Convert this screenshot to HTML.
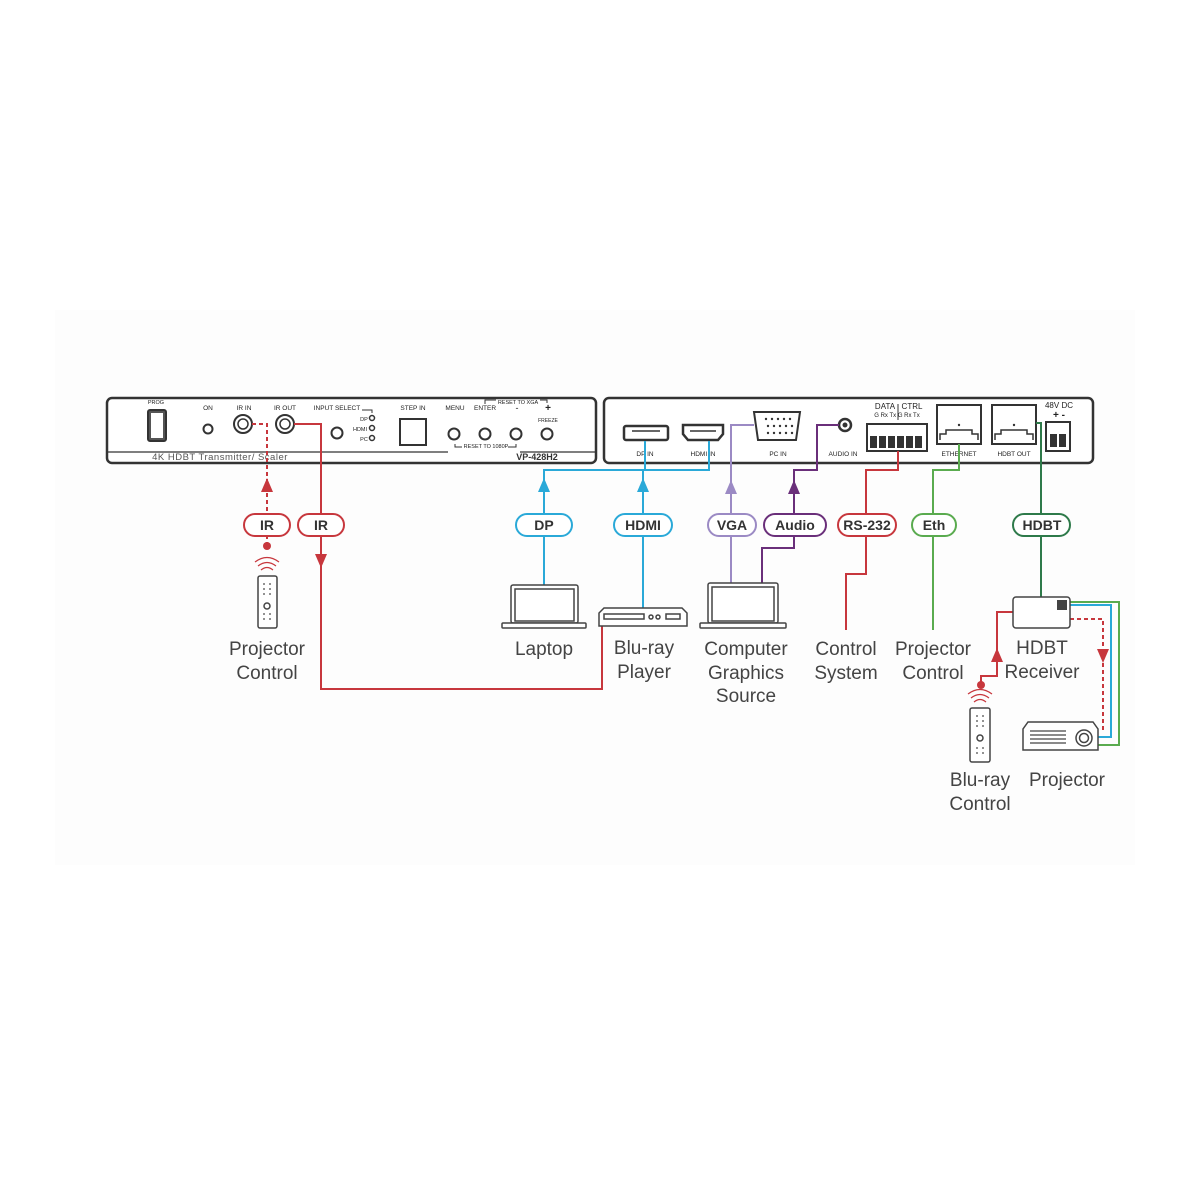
<!DOCTYPE html>
<html><head><meta charset="utf-8"><style>
html,body{margin:0;padding:0;background:#fff;}
svg{display:block;}
text{font-family:"Liberation Sans",sans-serif;}
.lbl{font-size:19px;fill:#444;text-anchor:middle;}
.pill{font-size:14px;font-weight:bold;fill:#333;text-anchor:middle;}
.sm{font-size:6.5px;fill:#222;text-anchor:middle;}
</style></head><body>
<svg width="1200" height="1200" viewBox="0 0 1200 1200" xmlns="http://www.w3.org/2000/svg">
<rect x="55" y="310" width="1080" height="555" fill="#fdfdfd"/>
<!-- FRONT PANEL -->
<g stroke="#333" fill="none">
<rect x="107" y="398" width="489" height="65" rx="5" stroke-width="2.5" fill="#fff"/>
<line x1="108" y1="452" x2="448" y2="452" stroke-width="1.2"/>
<line x1="520" y1="452" x2="595" y2="452" stroke-width="1.2"/>
<rect x="148" y="410" width="18" height="31" rx="2" stroke-width="2" fill="#555"/>
<rect x="151" y="413" width="12" height="25" fill="#fff" stroke="none"/>
<circle cx="208" cy="429" r="4.5" stroke-width="2"/>
<circle cx="243" cy="424" r="9" stroke-width="2"/><circle cx="243" cy="424" r="5" stroke-width="1.5"/>
<circle cx="285" cy="424" r="9" stroke-width="2"/><circle cx="285" cy="424" r="5" stroke-width="1.5"/>
<circle cx="337" cy="433" r="5.5" stroke-width="2"/>
<circle cx="372" cy="418" r="2.5" stroke-width="1.5"/>
<circle cx="372" cy="428" r="2.5" stroke-width="1.5"/>
<circle cx="372" cy="438" r="2.5" stroke-width="1.5"/>
<rect x="400" y="419" width="26" height="26" stroke-width="2"/>
<circle cx="454" cy="434" r="5.5" stroke-width="2"/>
<circle cx="485" cy="434" r="5.5" stroke-width="2"/>
<circle cx="516" cy="434" r="5.5" stroke-width="2"/>
<circle cx="547" cy="434" r="5.5" stroke-width="2"/>
<polyline points="362,410 372,410 372,413" stroke-width="1"/>
<polyline points="485,404 485,400 496,400" stroke-width="1"/>
<polyline points="540,400 547,400 547,403" stroke-width="1"/>
<polyline points="455,444 455,447 462,447" stroke-width="1"/>
<polyline points="508,447 516,447 516,444" stroke-width="1"/>
</g>
<g class="sm">
<text x="156" y="404" font-size="5.5">PROG</text>
<text x="208" y="410">ON</text>
<text x="244" y="410">IR IN</text>
<text x="285" y="410">IR OUT</text>
<text x="337" y="410">INPUT SELECT</text>
<text x="364" y="421" font-size="5.5">DP</text>
<text x="360" y="431" font-size="5.5">HDMI</text>
<text x="364" y="441" font-size="5.5">PC</text>
<text x="413" y="410">STEP IN</text>
<text x="455" y="410">MENU</text>
<text x="485" y="410">ENTER</text>
<text x="518" y="404" font-size="5.5">RESET TO XGA</text>
<text x="517" y="411" font-size="9">-</text>
<text x="548" y="411" font-size="10" font-weight="bold">+</text>
<text x="548" y="422" font-size="5">FREEZE</text>
<text x="486" y="448" font-size="5.5">RESET TO 1080P</text>
</g>
<text x="220" y="460" font-size="9.5" fill="#555" text-anchor="middle" letter-spacing="0.5">4K HDBT Transmitter/ Scaler</text>
<text x="537" y="460" font-size="9" font-weight="bold" fill="#333" text-anchor="middle">VP-428H2</text>
<!-- REAR PANEL -->
<g stroke="#333" fill="none">
<rect x="604" y="398" width="489" height="65" rx="5" stroke-width="2.5" fill="#fff"/>
<rect x="624" y="426" width="44" height="14" rx="2" stroke-width="2.5"/>
<line x1="632" y1="431" x2="660" y2="431" stroke-width="1.5"/>
<path d="M683 425 H723 V434 L718 440 H688 L683 434 Z" stroke-width="2.5"/>
<line x1="690" y1="431" x2="716" y2="431" stroke-width="1.5"/>
<path d="M754 412 H800 L796 440 H758 Z" stroke-width="2"/>
<circle cx="845" cy="425" r="6" stroke-width="2.5"/><circle cx="845" cy="425" r="2" fill="#333"/>
<rect x="867" y="424" width="60" height="27" stroke-width="2"/>
<rect x="937" y="405" width="44" height="39" stroke-width="2"/>
<rect x="992" y="405" width="44" height="39" stroke-width="2"/>
<rect x="1046" y="422" width="24" height="29" stroke-width="2"/>
<line x1="898" y1="404" x2="898" y2="420" stroke-width="1"/>
</g>
<g fill="#333">
<circle cx="766" cy="419" r="1.2"/><circle cx="772" cy="419" r="1.2"/><circle cx="778" cy="419" r="1.2"/><circle cx="784" cy="419" r="1.2"/><circle cx="790" cy="419" r="1.2"/>
<circle cx="768" cy="426" r="1.2"/><circle cx="774" cy="426" r="1.2"/><circle cx="780" cy="426" r="1.2"/><circle cx="786" cy="426" r="1.2"/><circle cx="792" cy="426" r="1.2"/>
<circle cx="768" cy="433" r="1.2"/><circle cx="774" cy="433" r="1.2"/><circle cx="780" cy="433" r="1.2"/><circle cx="786" cy="433" r="1.2"/><circle cx="792" cy="433" r="1.2"/>
<rect x="870" y="436" width="7" height="12"/><rect x="879" y="436" width="7" height="12"/><rect x="888" y="436" width="7" height="12"/><rect x="897" y="436" width="7" height="12"/><rect x="906" y="436" width="7" height="12"/><rect x="915" y="436" width="7" height="12"/>
<circle cx="959" cy="425" r="1.2"/><circle cx="1014" cy="425" r="1.2"/>
<rect x="1050" y="434" width="7" height="13"/><rect x="1059" y="434" width="7" height="13"/>
</g>
<g stroke="#333" fill="none" stroke-width="1.5">
<path d="M940 440 V434 H946 V430 H972 V434 H978 V440"/>
<path d="M995 440 V434 H1001 V430 H1027 V434 H1033 V440"/>
</g>
<g class="sm">
<text x="645" y="456">DP IN</text>
<text x="703" y="456">HDMI IN</text>
<text x="778" y="456">PC IN</text>
<text x="843" y="456">AUDIO IN</text>
<text x="885" y="409" font-size="8">DATA</text>
<text x="912" y="409" font-size="8">CTRL</text>
<text x="897" y="417" font-size="6">G Rx Tx G Rx Tx</text>
<text x="959" y="456">ETHERNET</text>
<text x="1014" y="456">HDBT OUT</text>
<text x="1059" y="408" font-size="8">48V DC</text>
<text x="1059" y="418" font-size="10" font-weight="bold">+ -</text>
</g>
<!-- CONNECTIONS -->
<g fill="none" stroke-width="2">
<!-- IR dashed -->
<path d="M252 424 H267 V546" stroke="#c7373d" stroke-dasharray="4,3"/>
<!-- IR solid -->
<path d="M294 424 H321 V689 H602 V622" stroke="#c7373d"/>
<!-- DP -->
<path d="M645 441 V470 H544 V585" stroke="#2aa9d8"/>
<path d="M709 441 V470 H643 V608" stroke="#2aa9d8"/>
<path d="M754 425 H731 V583" stroke="#9b8ac4"/>
<path d="M839 425 H817 V470 H794 V548 H762 V583" stroke="#6a2f7a"/>
<path d="M898 451 V470 H866 V574 H846 V630" stroke="#c7373d"/>
<path d="M959 444 V470 H933 V630" stroke="#5aab4f"/>
<path d="M1036 423 H1041 V597" stroke="#2e7a4a"/>
<path d="M1070 605 H1111 V737 H1098" stroke="#2aa9d8"/>
<path d="M1070 602 H1119 V745 H1098" stroke="#5aab4f"/>
<path d="M1070 619 H1103 V733" stroke="#c7373d" stroke-dasharray="4,3"/>
<path d="M1013 612 H997 V676 H981 V685" stroke="#c7373d"/>
</g>
<!-- arrows -->
<polygon points="267,478 261,492 273,492" fill="#c7373d"/>
<polygon points="321,568 315,554 327,554" fill="#c7373d"/>
<polygon points="544,478 538,492 550,492" fill="#2aa9d8"/>
<polygon points="643,478 637,492 649,492" fill="#2aa9d8"/>
<polygon points="731,480 725,494 737,494" fill="#9b8ac4"/>
<polygon points="794,480 788,494 800,494" fill="#6a2f7a"/>
<polygon points="997,648 991,662 1003,662" fill="#c7373d"/>
<polygon points="1103,663 1097,649 1109,649" fill="#c7373d"/>
<polygon points="601,620 607,620 604,626" fill="#c7373d"/>
<circle cx="267" cy="546" r="4" fill="#c7373d"/>
<circle cx="981" cy="685" r="4" fill="#c7373d"/>
<!-- pills -->
<g stroke-width="2" fill="#fff">
<rect x="244" y="514" width="46" height="22" rx="11" stroke="#c7373d"/>
<rect x="298" y="514" width="46" height="22" rx="11" stroke="#c7373d"/>
<rect x="516" y="514" width="56" height="22" rx="11" stroke="#2aa9d8"/>
<rect x="614" y="514" width="58" height="22" rx="11" stroke="#2aa9d8"/>
<rect x="708" y="514" width="48" height="22" rx="11" stroke="#9b8ac4"/>
<rect x="764" y="514" width="62" height="22" rx="11" stroke="#6a2f7a"/>
<rect x="838" y="514" width="58" height="22" rx="11" stroke="#c7373d"/>
<rect x="912" y="514" width="44" height="22" rx="11" stroke="#5aab4f"/>
<rect x="1013" y="514" width="57" height="22" rx="11" stroke="#2e7a4a"/>
</g>
<g class="pill">
<text x="267" y="530">IR</text><text x="321" y="530">IR</text>
<text x="544" y="530">DP</text><text x="643" y="530">HDMI</text>
<text x="732" y="530">VGA</text><text x="795" y="530">Audio</text>
<text x="867" y="530">RS-232</text><text x="934" y="530">Eth</text>
<text x="1042" y="530">HDBT</text>
</g>
<!-- devices -->
<g stroke="#444" fill="#fff" stroke-width="1.5">
<!-- remote 1 -->
<rect x="258" y="576" width="19" height="52" rx="2"/>
<circle cx="267" cy="606" r="3"/>
<rect x="511" y="585" width="67" height="38" rx="2"/>
<rect x="515" y="589" width="59" height="32" fill="none"/>
<rect x="502" y="623" width="84" height="5" rx="1"/>
<rect x="708" y="583" width="70" height="40" rx="2"/>
<rect x="712" y="587" width="62" height="34" fill="none"/>
<rect x="700" y="623" width="86" height="5" rx="1"/>
<path d="M604 608 H682 L687 613 V626 H599 V613 Z"/>
<rect x="604" y="614" width="40" height="5"/>
<circle cx="651" cy="617" r="2"/><circle cx="658" cy="617" r="2"/>
<rect x="666" y="614" width="14" height="5"/>
<rect x="1013" y="597" width="57" height="31" rx="3"/>
<rect x="970" y="708" width="20" height="54" rx="2"/>
<circle cx="980" cy="738" r="3"/>
<path d="M1028 722 H1093 L1098 729 V750 H1023 V729 Z"/>
<circle cx="1084" cy="738" r="8"/><circle cx="1084" cy="738" r="4.5"/>
</g>
<g stroke="#444" stroke-width="1.2">
<line x1="1030" y1="731" x2="1066" y2="731"/><line x1="1030" y1="735" x2="1066" y2="735"/>
<line x1="1030" y1="739" x2="1066" y2="739"/><line x1="1030" y1="743" x2="1066" y2="743"/>
</g>
<rect x="1057" y="600" width="10" height="10" fill="#444"/>
<g fill="none" stroke="#c7373d" stroke-width="1.2">
<path d="M261 570 Q267 565 273 570"/><path d="M258 566 Q267 559 276 566"/><path d="M255 562 Q267 553 279 562"/>
<path d="M974 702 Q980 697 986 702"/><path d="M971 698 Q980 691 989 698"/><path d="M968 694 Q980 685 992 694"/>
</g>
<g fill="#444">
<circle cx="264" cy="584" r="0.9"/><circle cx="270" cy="584" r="0.9"/><circle cx="264" cy="589" r="0.9"/><circle cx="270" cy="589" r="0.9"/><circle cx="264" cy="594" r="0.9"/><circle cx="270" cy="594" r="0.9"/><circle cx="264" cy="614" r="0.9"/><circle cx="270" cy="614" r="0.9"/><circle cx="264" cy="619" r="0.9"/><circle cx="270" cy="619" r="0.9"/>
<circle cx="977" cy="716" r="0.9"/><circle cx="983" cy="716" r="0.9"/><circle cx="977" cy="721" r="0.9"/><circle cx="983" cy="721" r="0.9"/><circle cx="977" cy="726" r="0.9"/><circle cx="983" cy="726" r="0.9"/><circle cx="977" cy="748" r="0.9"/><circle cx="983" cy="748" r="0.9"/><circle cx="977" cy="753" r="0.9"/><circle cx="983" cy="753" r="0.9"/>
</g>
<!-- labels -->
<g class="lbl">
<text x="267" y="655">Projector</text><text x="267" y="679">Control</text>
<text x="544" y="655">Laptop</text>
<text x="644" y="654">Blu-ray</text><text x="644" y="678">Player</text>
<text x="746" y="655">Computer</text><text x="746" y="679">Graphics</text><text x="746" y="702">Source</text>
<text x="846" y="655">Control</text><text x="846" y="679">System</text>
<text x="933" y="655">Projector</text><text x="933" y="679">Control</text>
<text x="1042" y="654">HDBT</text><text x="1042" y="678">Receiver</text>
<text x="980" y="786">Blu-ray</text><text x="980" y="810">Control</text>
<text x="1067" y="786">Projector</text>
</g>
</svg>
</body></html>
